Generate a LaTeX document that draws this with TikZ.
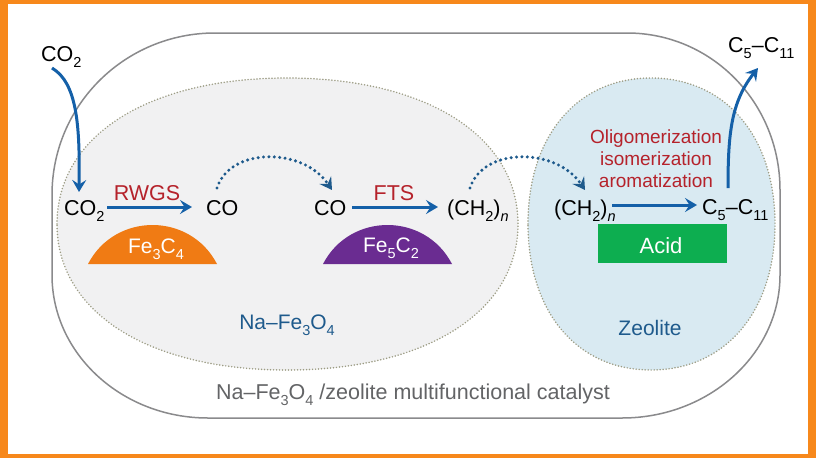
\documentclass[tikz,border=0pt]{standalone}
\usepackage{fontspec}
\setmainfont{Liberation Sans}
\usetikzlibrary{arrows.meta,calc}
\definecolor{frameor}{HTML}{F7881B}
\definecolor{capor}{HTML}{F07B14}
\definecolor{cappur}{HTML}{6A2C91}
\definecolor{acidgr}{HTML}{0DAE50}
\definecolor{rxred}{HTML}{B5222B}
\definecolor{flowblue}{HTML}{1460A8}
\definecolor{labblue}{HTML}{1E5A8C}
\definecolor{grayfill}{HTML}{F1F1F2}
\definecolor{bluefill}{HTML}{D9EAF2}
\definecolor{outerline}{HTML}{8A8A8C}
\definecolor{dotline}{HTML}{9C9C84}
\definecolor{captext}{HTML}{636466}
\newcommand{\csub}[1]{\raisebox{-.3em}{\fontsize{14.5}{14.5}\selectfont #1}}
\newcommand{\itsub}[1]{\raisebox{-.3em}{\fontsize{14.5}{14.5}\selectfont\itshape #1}}
\tikzset{
  chem/.style={inner sep=0pt,anchor=base west,font=\fontsize{21.5}{24}\selectfont,text=black},
  rxlab/.style={inner sep=0pt,anchor=base,font=\fontsize{21.5}{24}\selectfont,text=rxred},
  steplab/.style={inner sep=0pt,anchor=base,font=\fontsize{19}{22}\selectfont,text=rxred},
  whitelab/.style={inner sep=0pt,anchor=base,font=\fontsize{21}{24}\selectfont,text=white},
  phaselab/.style={inner sep=0pt,anchor=base,font=\fontsize{21}{22}\selectfont,text=labblue},
  flow/.style={draw=flowblue,line width=3pt,-{Stealth[length=12pt,width=14pt,inset=4.5pt]}},
  hop/.style={draw=labblue,line width=3.4pt,line cap=round,dash pattern=on 0pt off 5.4pt,-{Stealth[length=12pt,width=14pt,inset=4.5pt]}},
  zone/.style={draw=dotline,line width=1.7pt,line cap=round,dash pattern=on 0pt off 3pt},
}
\begin{document}
\begin{tikzpicture}[x=1pt,y=-1pt]
\useasboundingbox (0,0) rectangle (816,458);
\fill[frameor] (0,0) rectangle (816,458);
\fill[white] (8,4) rectangle (808,454);
% outer catalyst outline
\draw[outerline,line width=1.5pt] (52,195) .. controls (52,105) and (125,33) .. (215,33) -- (627,33)
  .. controls (712,33) and (780,103) .. (780,190) -- (780,275)
  .. controls (780,354) and (709,418) .. (622,418) -- (208,418)
  .. controls (122,418) and (52,354) .. (52,275) -- cycle;
% zones
\path[fill=grayfill] (57,224) .. controls (57,136) and (148,78) .. (287,78)
  .. controls (426,78) and (518,136) .. (518,224)
  .. controls (518,312) and (426,370) .. (287,370)
  .. controls (148,370) and (57,312) .. (57,224) -- cycle;
\draw[zone] (57,224) .. controls (57,136) and (148,78) .. (287,78)
  .. controls (426,78) and (518,136) .. (518,224)
  .. controls (518,312) and (426,370) .. (287,370)
  .. controls (148,370) and (57,312) .. (57,224) -- cycle;
\path[fill=bluefill] (528,224) .. controls (528,136) and (577,78) .. (651,78)
  .. controls (725,78) and (775,136) .. (775,224)
  .. controls (775,312) and (725,370) .. (651,370)
  .. controls (577,370) and (528,312) .. (528,224) -- cycle;
\draw[zone] (528,224) .. controls (528,136) and (577,78) .. (651,78)
  .. controls (725,78) and (775,136) .. (775,224)
  .. controls (775,312) and (725,370) .. (651,370)
  .. controls (577,370) and (528,312) .. (528,224) -- cycle;
% catalysts
\fill[capor] (88,264) .. controls (115,212) and (190,212) .. (217,264) -- cycle;
\fill[cappur] (323,264) .. controls (350,212) and (425,212) .. (452,264) -- cycle;
\fill[acidgr] (598,224) rectangle (727,263);
\node[whitelab] (fea) at (156,253) {Fe\csub{3}C\csub{4}};
\node[whitelab] (feb) at (391,252) {Fe\csub{5}C\csub{2}};
\node[whitelab,font=\fontsize{22}{24}\selectfont] (acid) at (661,253) {Acid};
% species
\node[chem] (co2in) at (41,61) {CO\csub{2}};
\node[chem] (co2b) at (64,215) {CO\csub{2}};
\node[chem] (coa) at (206,215) {CO};
\node[chem] (cob) at (314,215) {CO};
\node[chem] (cha) at (447,215) {(CH\csub{2})\itsub{n}};
\node[chem] (chb) at (554,215) {(CH\csub{2})\itsub{n}};
\node[chem] (cfa) at (702,214) {C\csub{5}–C\csub{11}};
\node[chem] (cfb) at (728,52) {C\csub{5}–C\csub{11}};
% labels
\node[rxlab] (rwgs) at (147,200) {RWGS};
\node[rxlab] (fts) at (394,200) {FTS};
\node[steplab] (oli) at (656,143) {Oligomerization};
\node[steplab] (iso) at (656,165) {isomerization};
\node[steplab] (aro) at (656,187) {aromatization};
\node[phaselab] (nafe) at (287,329) {Na–Fe\csub{3}O\csub{4}};
\node[phaselab] (zeo) at (650,335) {Zeolite};
\node[inner sep=0pt,anchor=base,font=\fontsize{21.5}{22}\selectfont,text=captext] (cap) at (413,399) {Na–Fe\csub{3}O\csub{4} /zeolite multifunctional catalyst};
% connectors
\draw[flow] ($(co2in.base west)+(11,7)$) .. controls ($(co2in.base west)+(36,22)$) and ($(co2b.base west)+(16,-90)$) .. ($(co2b.base west)+(15,-23)$);
\draw[flow] ($(co2b.base west)+(43,-8)$) -- ($(coa.base west)+(-14,-8)$);
\draw[flow] ($(cob.base west)+(38,-8)$) -- ($(cha.base west)+(-9,-8)$);
\draw[flow] ($(chb.base west)+(58,-10)$) -- ($(cfa.base west)+(-5,-9)$);
\draw[flow] ($(cfa.base west)+(26,-26)$) .. controls ($(cfa.base west)+(26,-80)$) and ($(cfb.base west)+(3,50)$) .. ($(cfb.base west)+(30,16)$);
\draw[hop] ($(coa.base west)+(11,-27)$) .. controls ($(coa.base west)+(24,-68)$) and ($(cob.base west)+(-11,-68)$) .. ($(cob.base west)+(18,-25)$);
\draw[hop] ($(cha.base west)+(23,-27)$) .. controls ($(cha.base west)+(36,-68)$) and ($(chb.base west)+(2,-68)$) .. ($(chb.base west)+(31,-25)$);
\end{tikzpicture}
\end{document}
